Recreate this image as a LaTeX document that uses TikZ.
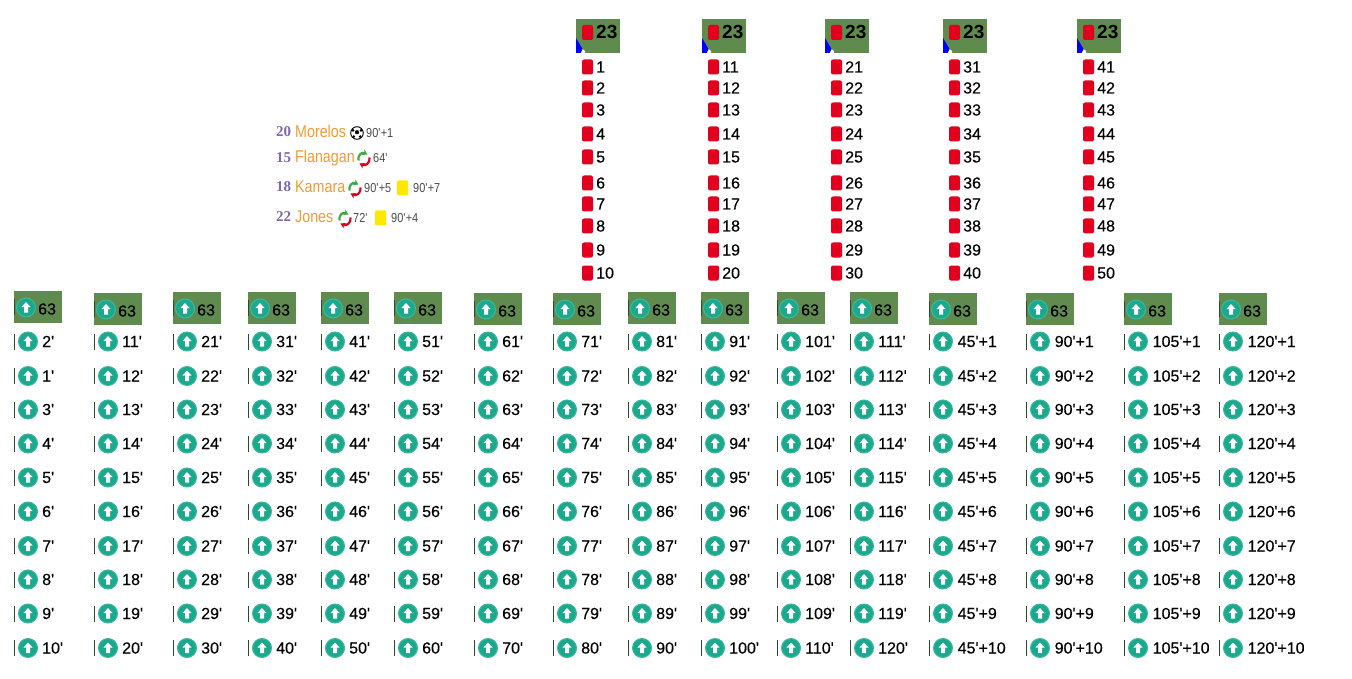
\documentclass[tikz,border=0pt]{standalone}
\usepackage{fontspec}
\setmainfont{Liberation Sans}
\newfontfamily\labfont[FakeBold=0.25]{Liberation Sans}
\newfontfamily\namefont[FakeStretch=0.84]{Liberation Sans}
\newfontfamily\numfont{Liberation Serif}
\usetikzlibrary{arrows.meta}
\definecolor{pitch}{HTML}{5F8B4E}
\definecolor{cardred}{HTML}{E2001F}
\definecolor{teal1}{HTML}{1BA98D}
\definecolor{teal2}{HTML}{3DB89E}
\definecolor{shirtnum}{HTML}{7C69A9}
\definecolor{playername}{HTML}{F59A2E}
\definecolor{timegrey}{HTML}{4A4A4A}
\definecolor{yellowcard}{HTML}{FFE800}
\definecolor{tickdark}{HTML}{2A4A2A}
\def\mq{\textquotesingle}
\tikzset{
  pitchbox/.style={fill=pitch,draw=none,minimum width=#1,minimum height=32pt,inner sep=0pt,anchor=north west},
  redcard/.style={fill=cardred,draw=none,rounded corners=2pt,minimum width=11pt,minimum height=15pt,inner sep=0pt},
  yelcard/.style={fill=yellowcard,draw=none,rounded corners=1pt,minimum width=11pt,minimum height=15pt,inner sep=0pt},
  upbadge/.style={circle,fill=teal1,draw=teal2,line width=1pt,minimum size=19pt,inner sep=0pt},
  lab/.style={anchor=west,inner sep=0pt,text height=11pt,text depth=0pt,font=\fontsize{16}{16}\selectfont\labfont},
  biglab/.style={lab,font=\fontsize{19}{19}\selectfont\bfseries},
  numlab/.style={anchor=west,inner sep=0pt,text height=9pt,text depth=0pt,text=shirtnum,font=\fontsize{15}{15}\selectfont\numfont\bfseries},
  namelab/.style={anchor=west,inner sep=0pt,text height=11pt,text depth=0pt,text=playername,font=\fontsize{17}{17}\selectfont\namefont},
  timelab/.style={anchor=west,inner sep=0pt,text height=9pt,text depth=0pt,text=timegrey,font=\fontsize{13}{13}\selectfont\namefont},
  tickbar/.style={draw=tickdark,line width=0.9pt},
  uparrow/.pic={\fill[white] (0,-5.5) -- (4.5,-0.5) -- (2,-0.5) -- (2,5) -- (-2,5) -- (-2,-0.5) -- (-4.5,-0.5) -- cycle;},
  subicon/.pic={
    \draw[green!55!black!75,line width=2.2pt,-{Stealth[length=5pt,width=6pt]}] (-5,2) .. controls (-6,-3) and (-2,-7) .. (4,-4);
    \draw[cardred,line width=2.2pt,-{Stealth[length=5pt,width=6pt]}] (6,-1) .. controls (7,4) and (2,8) .. (-4,5);
  },
  ballicon/.pic={
    \draw[black,fill=white,line width=0.9pt] (0,0) circle (6.3pt);
    \fill (0,-0.8) circle (2.1pt) (-4,-2.6) circle (1.5pt) (4,-2.6) circle (1.5pt) (-3.2,3.6) circle (1.5pt) (3.2,3.6) circle (1.5pt);
  }
}
\begin{document}
\begin{tikzpicture}[x=1pt,y=-1pt]
  \useasboundingbox (0,0) rectangle (1352,679);
  % red card columns
  \foreach \cx/\base [count=\c] in {576/0,702/10,825/20,943/30,1077/40}{
    \node[pitchbox=44pt,minimum height=34pt] (rbox\c) at (\cx,19) {};
    \fill[white] (\cx+6.5,49) -- (\cx+9,51) -- (\cx+9,53) -- (\cx+4.5,53) -- cycle;
    \fill[blue] (\cx,38) -- (\cx+6.5,49) -- (\cx+4.5,53) -- (\cx,53) -- cycle;
    \node[redcard] (rhead\c) at (\cx+11.5,32.5) {};
    \node[biglab] (rtot\c) at (\cx+20,33) {23};
    \foreach \ty [count=\r] in {67,88,110,134,157,183,204,226,250,273}{
      \pgfmathtruncatemacro\val{\base+\r}
      \node[redcard] (rc\c-\r) at (\cx+11.5,\ty) {};
      \node[lab] (rl\c-\r) at (\cx+20,\ty) {\val};
    }
  }
  % minute columns
  \foreach \cx/\top [count=\c] in {14/291,94/293,173/292,248/292,321/292,394/292,474/293,553/293,628/292,701/292,777/292,850/292}{
    \node[pitchbox=48pt] (gbox\c) at (\cx,\top) {};
    \draw[tickbar] (\cx,\top+8) -- (\cx,\top+24);
    \node[upbadge] (ghead\c) at (\cx+12,\top+16.5) {};
    \pic at (ghead\c) {uparrow};
    \node[lab] (gtot\c) at (\cx+24,\top+18) {63};
    \foreach \ty [count=\r] in {341.5,376,409.5,443.5,477.5,511.5,546,579.5,613.5,648}{
      \pgfmathtruncatemacro\val{(\c-1)*10+\r}
      \ifnum\c=1 \ifnum\r<3 \pgfmathtruncatemacro\val{3-\r}\fi\fi
      \draw[tickbar] (\cx,\ty-8) -- (\cx,\ty+8);
      \node[upbadge] (up\c-\r) at (\cx+14,\ty) {};
      \pic at (up\c-\r) {uparrow};
      \node[lab] (ml\c-\r) at (\cx+28,\ty) {\val\mq};
    }
  }
  % added time columns
  \foreach \cx/\top/\mn [count=\c] in {929/293/45,1026/293/90,1124/293/105,1219/293/120}{
    \node[pitchbox=48pt] (abox\c) at (\cx,\top) {};
    \draw[tickbar] (\cx,\top+8) -- (\cx,\top+24);
    \node[upbadge] (ahead\c) at (\cx+12,\top+16.5) {};
    \pic at (ahead\c) {uparrow};
    \node[lab] (atot\c) at (\cx+24,\top+18) {63};
    \foreach \ty [count=\r] in {341.5,376,409.5,443.5,477.5,511.5,546,579.5,613.5,648}{
      \draw[tickbar] (\cx,\ty-8) -- (\cx,\ty+8);
      \node[upbadge] (aup\c-\r) at (\cx+14,\ty) {};
      \pic at (aup\c-\r) {uparrow};
      \node[lab] (al\c-\r) at (\cx+28.5,\ty) {\mn\mq+\r};
    }
  }
  % players
  \node[numlab]  (n1) at (276,132.5) {20};
  \node[namelab] (p1) at (295,132.5) {Morelos};
  \pic at (357,133) {ballicon};
  \node[timelab] (t1) at (366,133.5) {90\mq+1};
  \node[numlab]  (n2) at (276,158) {15};
  \node[namelab] (p2) at (295,157.5) {Flanagan};
  \pic at (363.5,158.5) {subicon};
  \node[timelab] (t2) at (373,158.5) {64\mq};
  \node[numlab]  (n3) at (276,187) {18};
  \node[namelab] (p3) at (295,187) {Kamara};
  \pic at (354.5,188.5) {subicon};
  \node[timelab] (t3) at (364,188.5) {90\mq+5};
  \node[yelcard] (y3) at (402.5,188) {};
  \node[timelab] (u3) at (413,188.5) {90\mq+7};
  \node[numlab]  (n4) at (276,217) {22};
  \node[namelab] (p4) at (295,217) {Jones};
  \pic at (344.5,218.5) {subicon};
  \node[timelab] (t4) at (353,218.5) {72\mq};
  \node[yelcard] (y4) at (380.5,218) {};
  \node[timelab] (u4) at (391,218.5) {90\mq+4};
\end{tikzpicture}
\end{document}
